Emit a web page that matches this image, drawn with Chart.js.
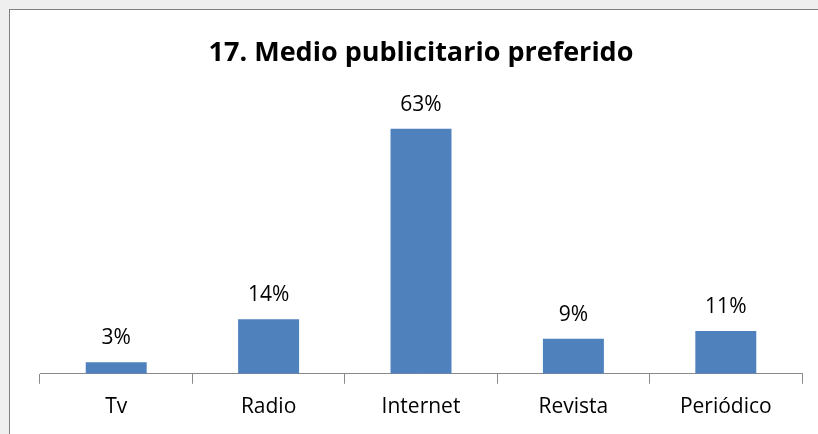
<!DOCTYPE html>
<html>
<head>
<meta charset="utf-8">
<script src="https://cdn.jsdelivr.net/npm/chart.js@4/dist/chart.umd.min.js"></script>
<style>
    html, body { margin: 0; padding: 0; }
    body { width: 818px; height: 434px; background: #efefef; position: relative; overflow: hidden; }
    #frame { position: absolute; left: 9px; top: 9px; width: 830px; height: 450px; background: #fff; border: 1px solid #7f7f7f; }
    #wrap { position: absolute; left: 0; top: 0; width: 818px; height: 434px; }
</style>
</head>
<body>
<div id="frame"></div>
<div id="wrap"><canvas id="chart"></canvas></div>
<script>
    const categories = ['Tv', 'Radio', 'Internet', 'Revista', 'Periódico'];
    const percentages = [3, 14, 63, 9, 11];
    const valueLabels = ['3%', '14%', '63%', '9%', '11%'];

    const barLabels = {
        id: 'barLabels',
        afterDatasetsDraw(chart) {
            const ctx = chart.ctx;
            const meta = chart.getDatasetMeta(0);
            ctx.save();
            ctx.font = '21px "Open Sans"';
            ctx.fillStyle = '#000';
            ctx.textAlign = 'center';
            ctx.textBaseline = 'alphabetic';
            meta.data.forEach((bar, i) => {
                ctx.fillText(valueLabels[i], bar.x, bar.y - 18);
            });
            ctx.restore();
        }
    };

    const ctx = document.getElementById('chart').getContext('2d');
    new Chart(ctx, {
        type: 'bar',
        data: {
            labels: categories,
            datasets: [{
                data: percentages,
                backgroundColor: '#4f81bd',
                categoryPercentage: 0.4,
                barPercentage: 1.0
            }]
        },
        options: {
            responsive: true,
            maintainAspectRatio: false,
            animation: false,
            layout: { padding: { left: 40, right: 16, top: 0, bottom: 3 } },
            plugins: {
                legend: { display: false },
                tooltip: { enabled: false },
                title: {
                    display: true,
                    text: '17. Medio publicitario preferido',
                    color: '#000',
                    font: { family: 'Open Sans', size: 27, weight: 'bold', lineHeight: 1.2 },
                    padding: { top: 37, bottom: 32 }
                }
            },
            scales: {
                x: {
                    grid: { drawOnChartArea: false, drawTicks: true, tickLength: 10, color: '#8a8a8a', offset: true },
                    border: { color: '#8a8a8a', width: 1 },
                    ticks: { color: '#000', font: { family: 'Open Sans', size: 21 }, padding: 11 }
                },
                y: {
                    display: false,
                    min: 0,
                    max: 70
                }
            }
        },
        plugins: [barLabels]
    });
</script>
</body>
</html>
